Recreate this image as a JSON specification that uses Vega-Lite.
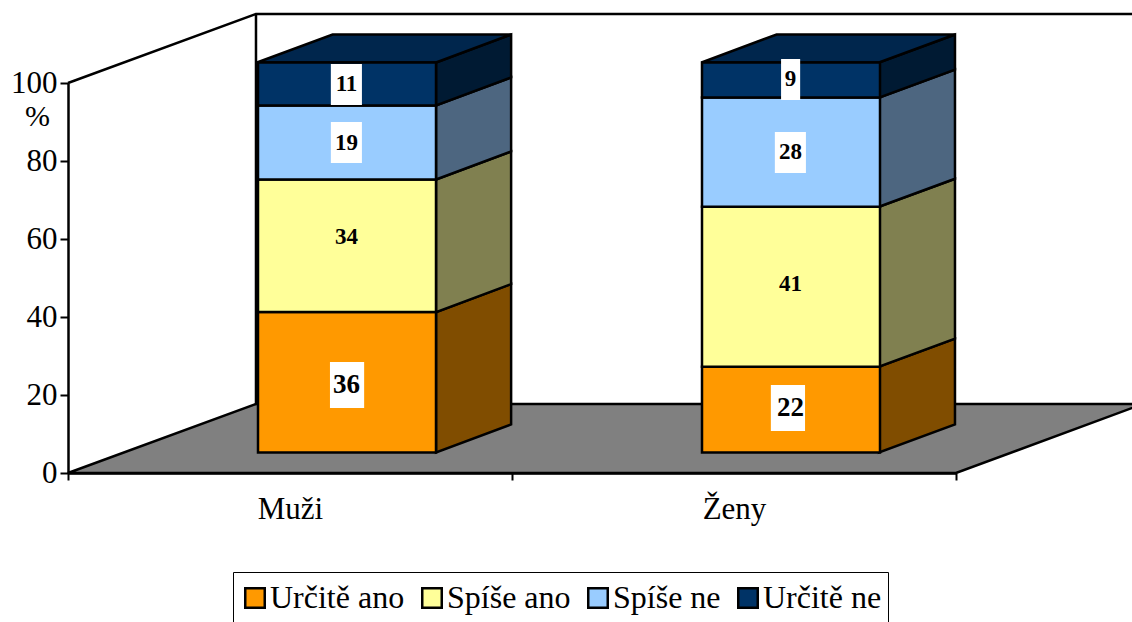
{
"$schema":"https://vega.github.io/schema/vega-lite/v6.json",
"width":888,"height":390,
"padding":{"left":68,"top":83,"right":176,"bottom":149},
"autosize":{"type":"none"},
"background":"white",
"config":{"view":{"stroke":null},"font":"Liberation Serif"},
"datasets":{
"bars":[
{"group":"Muži","series":"Určitě ano","rank":1,"value":36,"labelY":22.56},
{"group":"Muži","series":"Spíše ano","rank":2,"value":34,"labelY":60.5},
{"group":"Muži","series":"Spíše ne","rank":3,"value":19,"labelY":84.6},
{"group":"Muži","series":"Určitě ne","rank":4,"value":11,"labelY":99.7},
{"group":"Ženy","series":"Určitě ano","rank":1,"value":22,"labelY":16.67},
{"group":"Ženy","series":"Spíše ano","rank":2,"value":41,"labelY":48.46},
{"group":"Ženy","series":"Spíše ne","rank":3,"value":28,"labelY":82.3},
{"group":"Ženy","series":"Určitě ne","rank":4,"value":9,"labelY":100.9}
],
"sides":[
{"group":"Muži","series":"Určitě ano","pos":0.829,"low":5.26,"high":41.26},
{"group":"Muži","series":"Určitě ano","pos":0.998,"low":12.44,"high":48.44},
{"group":"Muži","series":"Spíše ano","pos":0.829,"low":41.26,"high":75.26},
{"group":"Muži","series":"Spíše ano","pos":0.998,"low":48.44,"high":82.44},
{"group":"Muži","series":"Spíše ne","pos":0.829,"low":75.26,"high":94.26},
{"group":"Muži","series":"Spíše ne","pos":0.998,"low":82.44,"high":101.44},
{"group":"Muži","series":"Určitě ne","pos":0.829,"low":94.26,"high":105.26},
{"group":"Muži","series":"Určitě ne","pos":0.998,"low":101.44,"high":112.44},
{"group":"Ženy","series":"Určitě ano","pos":1.8266,"low":5.26,"high":27.26},
{"group":"Ženy","series":"Určitě ano","pos":1.9977,"low":12.44,"high":34.44},
{"group":"Ženy","series":"Spíše ano","pos":1.8266,"low":27.26,"high":68.26},
{"group":"Ženy","series":"Spíše ano","pos":1.9977,"low":34.44,"high":75.44},
{"group":"Ženy","series":"Spíše ne","pos":1.8266,"low":68.26,"high":96.26},
{"group":"Ženy","series":"Spíše ne","pos":1.9977,"low":75.44,"high":103.44},
{"group":"Ženy","series":"Určitě ne","pos":1.8266,"low":96.26,"high":105.26},
{"group":"Ženy","series":"Určitě ne","pos":1.9977,"low":103.44,"high":112.44}
],
"tops":[
{"group":"Muži","pos":0.4257,"low":105.26,"high":105.26},
{"group":"Muži","pos":0.596,"low":105.26,"high":112.44},
{"group":"Muži","pos":0.829,"low":105.26,"high":112.44},
{"group":"Muži","pos":0.998,"low":112.44,"high":112.44},
{"group":"Ženy","pos":1.427,"low":105.26,"high":105.26},
{"group":"Ženy","pos":1.596,"low":105.26,"high":112.44},
{"group":"Ženy","pos":1.8266,"low":105.26,"high":112.44},
{"group":"Ženy","pos":1.9977,"low":112.44,"high":112.44}
],
"floor":[
{"pos":0,"low":0,"high":0},
{"pos":0.4234,"low":0,"high":17.69},
{"pos":2,"low":0,"high":17.69},
{"pos":2.421,"low":17.69,"high":17.69}
],
"walls":[
{"line":"a","step":1,"pos":0,"val":100},
{"line":"a","step":2,"pos":0.4234,"val":117.7},
{"line":"a","step":3,"pos":2.421,"val":117.7},
{"line":"b","step":1,"pos":0.4234,"val":117.7},
{"line":"b","step":2,"pos":0.4234,"val":17.69}
],
"boxes":[
{"label":11,"x0":0.592,"x1":0.662,"y0":94.36,"y1":104.87},
{"label":19,"x0":0.592,"x1":0.662,"y0":79.49,"y1":90},
{"label":36,"x0":0.59,"x1":0.667,"y0":16.67,"y1":28.46},
{"label":9,"x0":1.606,"x1":1.649,"y0":95.64,"y1":106.15},
{"label":28,"x0":1.592,"x1":1.662,"y0":76.92,"y1":87.44},
{"label":22,"x0":1.583,"x1":1.66,"y0":10.77,"y1":22.56}
]
},
"resolve":{"scale":{"x":"independent","color":"independent"}},
"layer":[
{
"data":{"name":"walls"},
"mark":{"type":"line","stroke":"black","strokeWidth":2.5},
"encoding":{
"x":{"field":"pos","type":"quantitative","scale":{"domain":[0,2],"nice":false,"zero":false},"axis":null},
"y":{"field":"val","type":"quantitative","scale":{"domain":[0,100],"nice":false},
"axis":{"values":[0,20,40,60,80,100],"title":"%","titleAngle":0,"titleX":-31,"titleY":42,"titleFontSize":30,"titleFontWeight":"normal","titleFont":"Liberation Serif","titleColor":"black","titleAlign":"center","titleBaseline":"alphabetic","grid":false,"domainColor":"black","domainWidth":2.5,"tickColor":"black","tickWidth":2,"tickSize":8,"labelFont":"Liberation Serif","labelFontSize":31,"labelColor":"black","labelPadding":3,"labelOverlap":false,"zindex":1}},
"detail":{"field":"line"},
"order":{"field":"step"}
}
},
{
"data":{"name":"floor"},
"mark":{"type":"area","fill":"#808080","stroke":"black","strokeWidth":2.5},
"encoding":{
"x":{"field":"pos","type":"quantitative","scale":{"domain":[0,2],"nice":false,"zero":false},"axis":null},
"y":{"field":"high","type":"quantitative","stack":null,"scale":{"domain":[0,100],"nice":false}},
"y2":{"field":"low"}
}
},
{
"data":{"name":"sides"},
"mark":{"type":"area","stroke":"black","strokeWidth":2.5,"opacity":1},
"encoding":{
"x":{"field":"pos","type":"quantitative","scale":{"domain":[0,2],"nice":false,"zero":false},"axis":null},
"y":{"field":"high","type":"quantitative","stack":null,"scale":{"domain":[0,100],"nice":false}},
"y2":{"field":"low"},
"detail":{"field":"group"},
"color":{"field":"series","type":"nominal","legend":null,"scale":{"domain":["Určitě ano","Spíše ano","Spíše ne","Určitě ne"],"range":["#804D00","#808050","#4D6680","#001A33"]}}
}
},
{
"data":{"name":"tops"},
"mark":{"type":"area","fill":"#00264D","stroke":"black","strokeWidth":2.5},
"encoding":{
"x":{"field":"pos","type":"quantitative","scale":{"domain":[0,2],"nice":false,"zero":false},"axis":null},
"y":{"field":"high","type":"quantitative","stack":null,"scale":{"domain":[0,100],"nice":false}},
"y2":{"field":"low"},
"detail":{"field":"group"}
}
},
{
"data":{"name":"bars"},
"mark":{"type":"bar","size":178,"xOffset":57,"yOffset":-20.5,"y2Offset":-20.5,"stroke":"black","strokeWidth":2.5},
"encoding":{
"x":{"field":"group","type":"nominal","scale":{"domain":["Muži","Ženy"],"paddingInner":0,"paddingOuter":0},
"axis":{"title":null,"labelAngle":0,"tickBand":"extent","domainColor":"black","domainWidth":2.5,"tickColor":"black","tickWidth":2,"tickSize":7,"labelFont":"Liberation Serif","labelFontSize":31,"labelColor":"black","labelPadding":14,"zindex":1}},
"y":{"field":"value","type":"quantitative","stack":"zero","scale":{"domain":[0,100],"nice":false}},
"color":{"field":"series","type":"nominal","scale":{"domain":["Určitě ano","Spíše ano","Spíše ne","Určitě ne"],"range":["#FF9900","#FFFF99","#99CCFF","#003366"]},
"legend":{"title":null,"orient":"none","legendX":165,"legendY":489,"direction":"horizontal","columns":4,"columnPadding":11,"padding":6,"clipHeight":40,"fillColor":"white","strokeColor":"black","symbolType":"square","symbolSize":380,"symbolStrokeColor":"black","symbolStrokeWidth":2.5,"labelFont":"Liberation Serif","labelFontSize":32,"labelColor":"black","labelOffset":-1,"labelLimit":300,"symbolOpacity":1}},
"order":{"field":"rank"}
}
},
{
"data":{"name":"boxes"},
"mark":{"type":"rect","fill":"white"},
"encoding":{
"x":{"field":"x0","type":"quantitative","scale":{"domain":[0,2],"nice":false,"zero":false},"axis":null},
"x2":{"field":"x1"},
"y":{"field":"y0","type":"quantitative","scale":{"domain":[0,100],"nice":false}},
"y2":{"field":"y1"}
}
},
{
"data":{"name":"bars"},
"mark":{"type":"text","font":"Liberation Serif","fontWeight":"bold","color":"black","baseline":"middle","xOffset":56.5},
"encoding":{
"x":{"field":"group","type":"nominal","scale":{"domain":["Muži","Ženy"],"paddingInner":0,"paddingOuter":0},"axis":null},
"y":{"field":"labelY","type":"quantitative","stack":null,"scale":{"domain":[0,100],"nice":false}},
"text":{"field":"value","type":"quantitative"},
"size":{"condition":{"test":"datum.value==36||datum.value==22","value":27},"value":23}
}
}
]
}
